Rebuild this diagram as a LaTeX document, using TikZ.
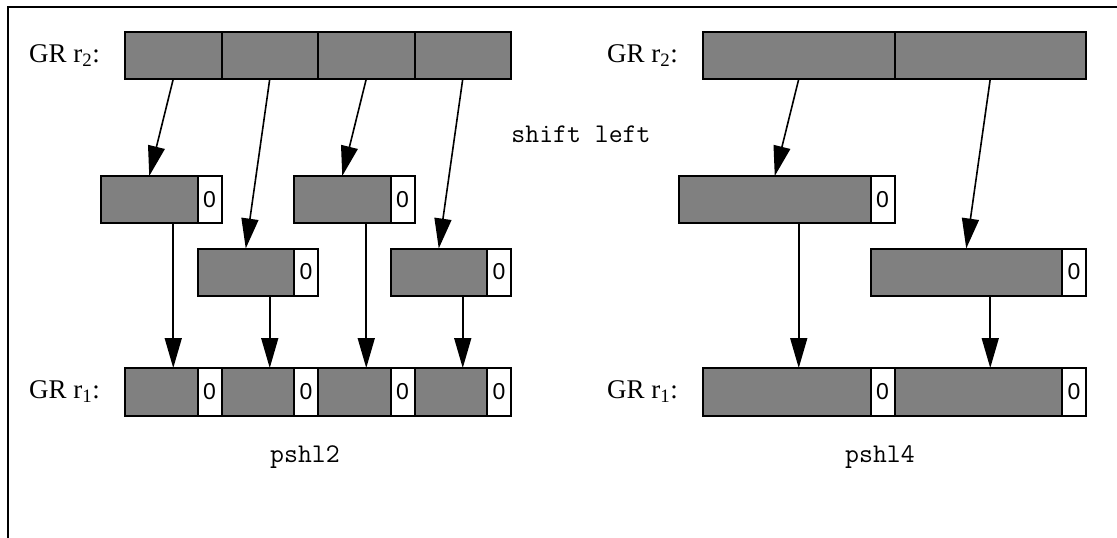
\documentclass[tikz,border=0pt]{standalone}
\usepackage{fontspec}
\setmainfont{Liberation Serif}
\newfontfamily\zerofont{Liberation Sans}
\usepackage{tikz}
\usetikzlibrary{
  positioning,
  arrows.meta
}
\definecolor{regfill}{HTML}{808080}

\begin{document}
\begin{tikzpicture}[x=1pt, y=-1pt,
    cell/.style={draw, line width=2pt, fill=regfill, inner sep=0pt, outer sep=0pt, minimum height=47pt},
    zero/.style={draw, line width=2pt, fill=white, inner sep=0pt, outer sep=0pt, minimum width=24pt,
      minimum height=47pt, anchor=west, font=\fontsize{23}{27}\zerofont},
    lbl/.style={font=\fontsize{27}{31}\selectfont, inner sep=0pt},
    code/.style={font=\fontsize{27}{31}\ttfamily, inner sep=0pt},
    arr/.style={-{Triangle[length=30pt, width=17pt]}, line width=1.6pt}]
  \useasboundingbox (0,0) rectangle (1117,538);

  % Frame
  \draw[line width=1.2pt] (1117,7) -- (8,7) -- (8,538);

  % pshl2: source register
  \foreach \k in {0,...,3} {
    \node[cell, minimum width=96.5pt] (tl\k) at ({173.25+96.5*\k}, 55.5) {};
  }
  \node[lbl, left=25pt of tl0] (lbltl) {GR r\textsubscript{2}:};

  % pshl2: shifted elements
  \foreach \k/\my in {0/199.5, 1/272, 2/199.5, 3/272} {
    \node[cell, minimum width=96.5pt] (ml\k) at ({149.25+96.5*\k}, \my) {};
    \node[zero] (mlz\k) at (ml\k.east) {0};
  }

  % pshl2: result register
  \foreach \k in {0,...,3} {
    \node[cell, minimum width=72.5pt, minimum height=48pt] (bl\k) at ({161.25+96.5*\k}, 392) {};
    \node[zero, minimum height=48pt] (blz\k) at (bl\k.east) {0};
  }
  \node[lbl, left=25pt of bl0] (lblbl) {GR r\textsubscript{1}:};

  % pshl2: arrows
  \foreach \k in {0,...,3} {
    \draw[arr] (tl\k.south) -- (ml\k.north);
    \draw[arr] (tl\k.south |- ml\k.south) -- (tl\k.south |- bl\k.north);
  }

  % pshl4: source register
  \foreach \k in {0,1} {
    \node[cell, minimum width=191.5pt] (tr\k) at ({798.75+191.5*\k}, 55.5) {};
  }
  \node[lbl, left=25pt of tr0] (lbltr) {GR r\textsubscript{2}:};

  % pshl4: shifted elements
  \foreach \k/\my in {0/199.5, 1/272} {
    \node[cell, minimum width=191.5pt] (mr\k) at ({774.75+191.5*\k}, \my) {};
    \node[zero] (mrz\k) at (mr\k.east) {0};
  }

  % pshl4: result register
  \foreach \k in {0,1} {
    \node[cell, minimum width=167.5pt, minimum height=48pt] (br\k) at ({786.75+191.5*\k}, 392) {};
    \node[zero, minimum height=48pt] (brz\k) at (br\k.east) {0};
  }
  \node[lbl, left=25pt of br0] (lblbr) {GR r\textsubscript{1}:};

  % pshl4: arrows
  \foreach \k in {0,1} {
    \draw[arr] (tr\k.south) -- (mr\k.north);
    \draw[arr] (tr\k.south |- mr\k.south) -- (tr\k.south |- br\k.north);
  }

  % Captions
  \node[code] (shiftlbl) at (581,134) {shift left};
  \node[code] (capl) at (305,457) {pshl2};
  \node[code] (capr) at (880,457) {pshl4};
\end{tikzpicture}
\end{document}
